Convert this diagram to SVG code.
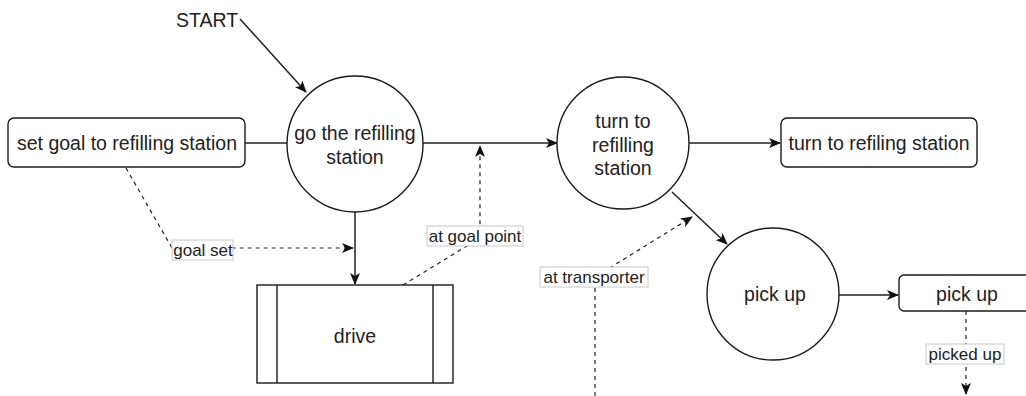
<svg xmlns="http://www.w3.org/2000/svg" width="1026" height="396" viewBox="0 0 1026 396">
  <defs>
    <style>
      .node { fill: #fff; stroke: #1a1a1a; stroke-width: 1.4; }
      .txt { font-family: "Liberation Sans", Arial, sans-serif; font-size: 19.5px; fill: #222; text-anchor: middle; }
      .lbl { font-family: "Liberation Sans", Arial, sans-serif; font-size: 17px; fill: #222; text-anchor: middle; }
      .lblbox { fill: #fff; stroke: #c8c8c8; stroke-width: 1; }
      .edge { fill: none; stroke: #222; stroke-width: 1.5; }
      .dash { fill: none; stroke: #222; stroke-width: 1.2; stroke-dasharray: 4 4; }
    </style>
    <marker id="arrow" viewBox="0 0 12 10" refX="11" refY="5" markerWidth="12" markerHeight="10" markerUnits="userSpaceOnUse" orient="auto">
      <path d="M0,0 L12,5 L0,10 L3,5 Z" fill="#111"/>
    </marker>
  </defs>

  <!-- connectors -->
  <g id="connectors">
    <path class="edge" d="M240,19 L306,92" marker-end="url(#arrow)"/>
    <path class="edge" d="M245,143 L287,143"/>
    <path class="edge" d="M423,143 L557,143" marker-end="url(#arrow)"/>
    <path class="edge" d="M355,212 L355,284" marker-end="url(#arrow)"/>
    <path class="edge" d="M689,143 L780,143" marker-end="url(#arrow)"/>
    <path class="edge" d="M672,192 L727,244" marker-end="url(#arrow)"/>
    <path class="edge" d="M839,295 L898,295" marker-end="url(#arrow)"/>
    <path class="dash" d="M126,168 L172,248 L353,248" marker-end="url(#arrow)"/>
    <path class="dash" d="M403,285 L480,238 L480,146" marker-end="url(#arrow)"/>
    <path class="dash" d="M595,396 L595,277 L692,217" marker-end="url(#arrow)"/>
    <path class="dash" d="M966,311 L966,394" marker-end="url(#arrow)"/>
  </g>

  <!-- edge labels -->
  <g id="edge-labels">
    <rect class="lblbox" x="172" y="240" width="61" height="20"/>
    <text class="lbl" x="203" y="256">goal set</text>
    <rect class="lblbox" x="427" y="226" width="96" height="20"/>
    <text class="lbl" x="475" y="242">at goal point</text>
    <rect class="lblbox" x="540" y="267" width="108" height="20"/>
    <text class="lbl" x="594" y="283">at transporter</text>
    <rect class="lblbox" x="926" y="344" width="78" height="20"/>
    <text class="lbl" x="965" y="360">picked up</text>
  </g>

  <g id="start">
    <text class="txt" x="207" y="27">START</text>
  </g>

  <g id="set-goal">
    <rect class="node" x="8" y="118" width="237" height="49" rx="6"/>
    <text class="txt" x="127" y="150">set goal to refilling station</text>
  </g>

  <g id="go-refilling">
    <circle class="node" cx="355" cy="144" r="68"/>
    <text class="txt" x="355" y="140">go the refilling</text>
    <text class="txt" x="355" y="164">station</text>
  </g>

  <g id="drive">
    <rect class="node" x="257" y="285" width="196" height="98"/>
    <line class="node" x1="277" y1="285" x2="277" y2="383"/>
    <line class="node" x1="433" y1="285" x2="433" y2="383"/>
    <text class="txt" x="355" y="343">drive</text>
  </g>

  <g id="turn-circle">
    <circle class="node" cx="623" cy="143" r="66"/>
    <text class="txt" x="623" y="128">turn to</text>
    <text class="txt" x="623" y="152">refilling</text>
    <text class="txt" x="623" y="175">station</text>
  </g>

  <g id="turn-action">
    <rect class="node" x="781" y="118" width="196" height="49" rx="6"/>
    <text class="txt" x="879" y="150">turn to refiling station</text>
  </g>

  <g id="pickup-circle">
    <circle class="node" cx="773" cy="294" r="66"/>
    <text class="txt" x="775" y="301">pick up</text>
  </g>

  <g id="pickup-action">
    <rect class="node" x="899" y="275" width="140" height="36" rx="5"/>
    <text class="txt" x="967" y="301">pick up</text>
  </g>
</svg>
